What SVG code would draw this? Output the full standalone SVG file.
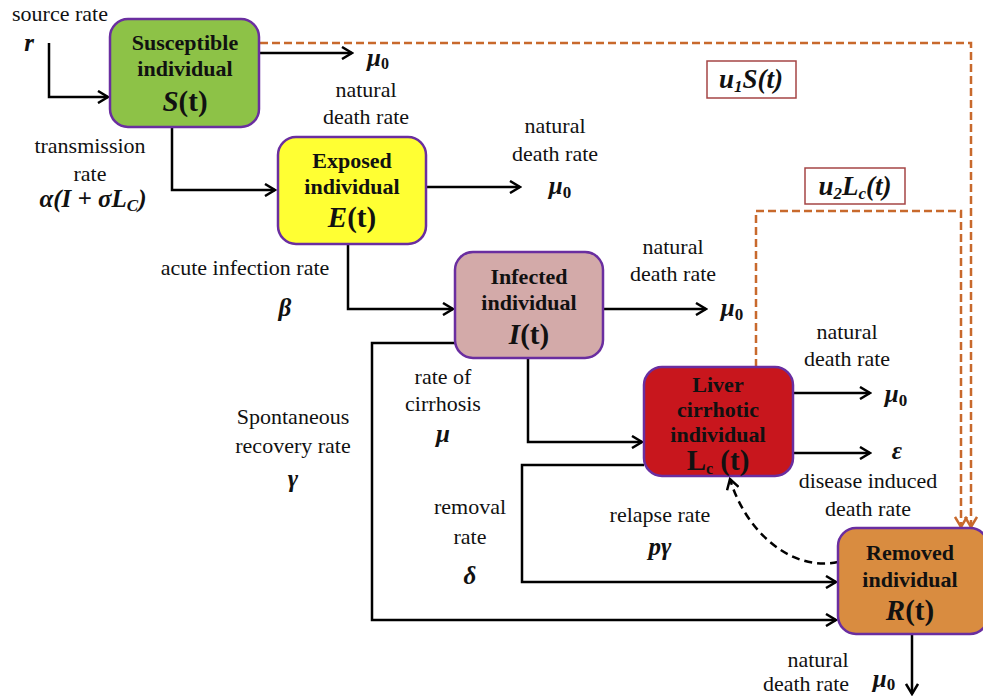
<svg xmlns="http://www.w3.org/2000/svg" width="983" height="696" viewBox="0 0 983 696">
<defs>
<style>
text{font-family:"Liberation Serif","Times New Roman",serif;fill:#111;text-anchor:middle}
.lbl{font-size:22px}
.bt{font-size:22px;font-weight:bold}
.big{font-size:29px;font-weight:bold}
.m{font-size:25px;font-weight:bold;font-style:italic}
.mc{font-size:27px;font-weight:bold;font-style:italic}
.box{stroke:#6a2ea0;stroke-width:2.5}
.ln{fill:none;stroke:#000;stroke-width:2.5}
.od{fill:none;stroke:#c8692c;stroke-width:2.5;stroke-dasharray:8 4}
.bd{fill:none;stroke:#000;stroke-width:2.5;stroke-dasharray:8 5}
.cb{fill:#fff;stroke:#a54545;stroke-width:1.5}
</style>
<marker id="a" viewBox="0 0 14 14" markerWidth="14" markerHeight="14" refX="12" refY="7" orient="auto" markerUnits="userSpaceOnUse">
<path d="M2,1 L12,7 L2,13" fill="none" stroke="#000" stroke-width="2.5"/>
</marker>
<marker id="ao" viewBox="0 0 14 14" markerWidth="14" markerHeight="14" refX="12" refY="7" orient="auto" markerUnits="userSpaceOnUse">
<path d="M2,1 L12,7 L2,13" fill="none" stroke="#c8692c" stroke-width="2.5"/>
</marker>
</defs>

<g id="connectors">
<path class="ln" d="M49,43 V97 H108" marker-end="url(#a)"/>
<path class="ln" d="M259,53 H352" marker-end="url(#a)"/>
<path class="ln" d="M172,127 V190 H275" marker-end="url(#a)"/>
<path class="ln" d="M426,187 H520" marker-end="url(#a)"/>
<path class="ln" d="M348,244 V309 H453" marker-end="url(#a)"/>
<path class="ln" d="M603,309 H706" marker-end="url(#a)"/>
<path class="ln" d="M455,343 H372 V620 H836" marker-end="url(#a)"/>
<path class="ln" d="M528,358 V442 H642" marker-end="url(#a)"/>
<path class="ln" d="M793,393 H870" marker-end="url(#a)"/>
<path class="ln" d="M793,453 H870" marker-end="url(#a)"/>
<path class="ln" d="M644,465 H522 V582 H836" marker-end="url(#a)"/>
<path class="ln" d="M912,634 V694" marker-end="url(#a)"/>
<path class="bd" d="M838,562 C790,572 745,530 730,479" marker-end="url(#a)"/>
<path class="od" d="M260,43 H971 V527" marker-end="url(#ao)"/>
<path class="od" d="M756,367 V211 H961 V527" marker-end="url(#ao)"/>
</g>

<g id="node-S">
<rect class="box" x="110" y="19" width="149" height="108" rx="18" fill="#8dc247"/>
<text class="bt" x="185" y="50">Susceptible</text>
<text class="bt" x="185" y="76">individual</text>
<text class="big" x="185" y="111"><tspan font-style="italic">S</tspan>(t)</text>
</g>

<g id="node-E">
<rect class="box" x="278" y="137" width="148" height="107" rx="18" fill="#ffff33"/>
<text class="bt" x="352" y="168">Exposed</text>
<text class="bt" x="352" y="194">individual</text>
<text class="big" x="352" y="227"><tspan font-style="italic">E</tspan>(t)</text>
</g>

<g id="node-I">
<rect class="box" x="455" y="252" width="148" height="106" rx="18" fill="#d3aaa9"/>
<text class="bt" x="529" y="284">Infected</text>
<text class="bt" x="529" y="310">individual</text>
<text class="big" x="529" y="344"><tspan font-style="italic">I</tspan>(t)</text>
</g>

<g id="node-L">
<rect class="box" x="644" y="367" width="149" height="109" rx="18" fill="#c8161d"/>
<text class="bt" x="718" y="392">Liver</text>
<text class="bt" x="718" y="417">cirrhotic</text>
<text class="bt" x="718" y="442">individual</text>
<text class="big" x="718" y="470">L<tspan font-size="16" dy="4">c</tspan><tspan dy="-4"> (t)</tspan></text>
</g>

<g id="node-R">
<rect class="box" x="838" y="528" width="150" height="106" rx="18" fill="#d98c40"/>
<text class="bt" x="910" y="560">Removed</text>
<text class="bt" x="910" y="587">individual</text>
<text class="big" x="910" y="620"><tspan font-style="italic">R</tspan>(t)</text>
</g>

<g id="control-u1">
<rect class="cb" x="707" y="61" width="89" height="37"/>
<text class="mc" x="751" y="88">u<tspan font-size="17" dy="4">1</tspan><tspan dy="-4">S(t)</tspan></text>
</g>
<g id="control-u2">
<rect class="cb" x="805" y="168" width="100" height="36"/>
<text class="mc" x="855" y="195">u<tspan font-size="17" dy="4">2</tspan><tspan dy="-4">L</tspan><tspan font-size="17" dy="4">c</tspan><tspan dy="-4">(t)</tspan></text>
</g>

<g id="labels">
<text class="lbl" x="60" y="21">source rate</text>
<text class="m" x="29" y="51">r</text>
<text class="m" x="378" y="66">μ<tspan font-size="16" dy="3" font-style="normal">0</tspan></text>
<text class="lbl" x="366" y="97">natural</text>
<text class="lbl" x="366" y="124">death rate</text>
<text class="lbl" x="90" y="153">transmission</text>
<text class="lbl" x="90" y="181">rate</text>
<text class="m" x="93" y="207">α(I + σL<tspan font-size="17" dy="4">C</tspan><tspan dy="-4">)</tspan></text>
<text class="lbl" x="555" y="133">natural</text>
<text class="lbl" x="555" y="161">death rate</text>
<text class="m" x="560" y="194">μ<tspan font-size="17" dy="4" font-style="normal">0</tspan></text>
<text class="lbl" x="245" y="275">acute infection  rate</text>
<text class="m" x="285" y="316">β</text>
<text class="lbl" x="673" y="254">natural</text>
<text class="lbl" x="673" y="281">death rate</text>
<text class="m" x="732" y="316">μ<tspan font-size="17" dy="4" font-style="normal">0</tspan></text>
<text class="lbl" x="293" y="424">Spontaneous</text>
<text class="lbl" x="293" y="453">recovery rate</text>
<text class="m" x="293" y="487">γ</text>
<text class="lbl" x="443" y="384">rate of</text>
<text class="lbl" x="443" y="411">cirrhosis</text>
<text class="m" x="443" y="442">μ</text>
<text class="lbl" x="847" y="339">natural</text>
<text class="lbl" x="847" y="366">death rate</text>
<text class="m" x="896" y="402">μ<tspan font-size="17" dy="4" font-style="normal">0</tspan></text>
<text class="m" x="897" y="459">ε</text>
<text class="lbl" x="868" y="488">disease induced</text>
<text class="lbl" x="868" y="516">death rate</text>
<text class="lbl" x="470" y="514">removal</text>
<text class="lbl" x="470" y="544">rate</text>
<text class="m" x="470" y="584">δ</text>
<text class="lbl" x="660" y="522">relapse rate</text>
<text class="m" x="660" y="555">pγ</text>
<text class="lbl" x="818" y="667">natural</text>
<text class="lbl" x="806" y="691">death rate</text>
<text class="m" x="884" y="687">μ<tspan font-size="17" dy="3" font-style="normal">0</tspan></text>
</g>
</svg>
